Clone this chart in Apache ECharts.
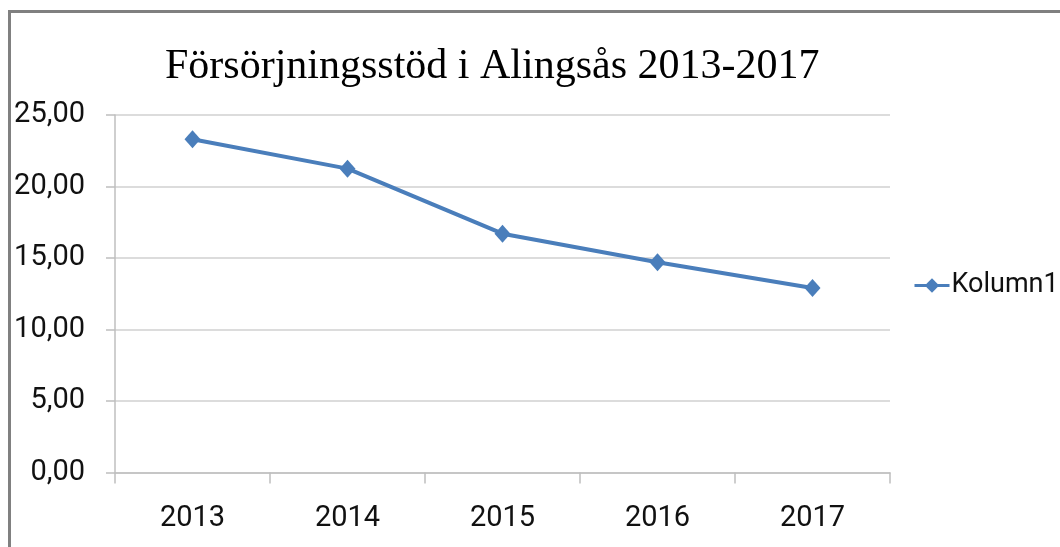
<!DOCTYPE html>
<html>
<head>
<meta charset="utf-8">
<title>Försörjningsstöd i Alingsås 2013-2017</title>
<script src="https://cdn.jsdelivr.net/npm/echarts@6/dist/echarts.min.js"></script>
<style>
  html, body { margin: 0; padding: 0; background: #fff; }
  #chart { width: 1060px; height: 547px; }
</style>
</head>
<body>
<div id="chart"></div>
<script>
// data
const years = ['2013', '2014', '2015', '2016', '2017']
const kolumn1 = [23.3, 21.25, 16.7, 14.7, 12.9]
const yTickLabels = ['0,00', '5,00', '10,00', '15,00', '20,00', '25,00']

const labelFont = "Roboto, 'Liberation Sans', sans-serif"

const chart = echarts.init(document.getElementById('chart'))

const option = {
  backgroundColor: '#fff',
  animation: false,
  title: {
    text: 'Försörjningsstöd i Alingsås 2013-2017',
    left: 165,
    top: 46,
    padding: 0,
    textStyle: {
      fontFamily: "'Liberation Serif', 'DejaVu Serif', serif",
      fontSize: 42,
      fontWeight: 'normal',
      color: '#000'
    }
  },
  legend: {
    data: ['Kolumn1'],
    orient: 'vertical',
    left: 913,
    top: 272,
    padding: 0,
    itemWidth: 35,
    itemHeight: 18,
    lineStyle: { width: 3 },
    textStyle: {
      fontFamily: labelFont,
      fontSize: 27,
      color: '#111',
      padding: [0, 0, 0, -3]
    }
  },
  grid: {
    left: 115,
    right: 170,
    top: 115,
    bottom: 74.5,
    containLabel: false
  },
  xAxis: {
    type: 'category',
    data: years,
    boundaryGap: true,
    axisLine: { show: true, lineStyle: { color: '#bfbfbf', width: 1.5 } },
    axisTick: { show: true, length: 11, lineStyle: { color: '#bfbfbf', width: 1.5 } },
    axisLabel: {
      margin: 32,
      fontFamily: labelFont,
      fontSize: 29,
      color: '#111'
    },
    splitLine: { show: false }
  },
  yAxis: {
    type: 'value',
    min: 0,
    max: 25,
    interval: 5,
    axisLine: { show: true, lineStyle: { color: '#bfbfbf', width: 1.5 } },
    axisTick: { show: true, length: 9, lineStyle: { color: '#bfbfbf', width: 1.5 } },
    axisLabel: {
      margin: 30,
      fontFamily: labelFont,
      fontSize: 29,
      color: '#111',
      formatter: (value) => yTickLabels[Math.round(value / 5)]
    },
    splitLine: { show: true, lineStyle: { color: '#d0d0d0', width: 1.5 } }
  },
  series: [
    {
      name: 'Kolumn1',
      type: 'line',
      data: kolumn1,
      symbol: 'diamond',
      symbolSize: [16, 18],
      itemStyle: { color: '#4a7ebb' },
      lineStyle: { color: '#4a7ebb', width: 4 }
    }
  ],
  graphic: [
    {
      // outer chart frame (right and bottom edges fall outside the picture)
      type: 'rect',
      shape: { x: 9.5, y: 11.5, width: 1200, height: 700 },
      style: { fill: 'none', stroke: '#808080', lineWidth: 3 },
      silent: true
    }
  ]
}

chart.setOption(option)
</script>
</body>
</html>
